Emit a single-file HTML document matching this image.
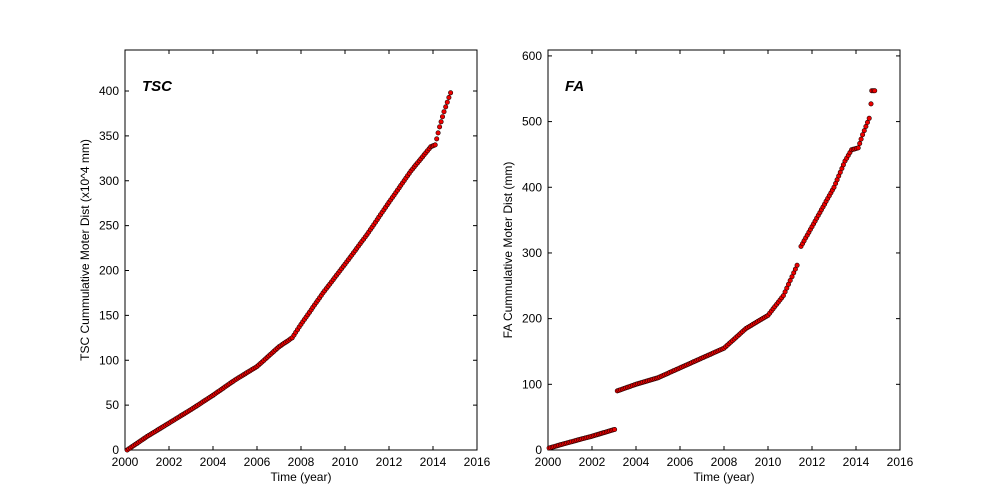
<!DOCTYPE html><html><head><style>body{margin:0;background:#fff}svg{display:block;font-family:"Liberation Sans",sans-serif}</style></head><body>
<svg id="s" width="1000" height="500" xmlns="http://www.w3.org/2000/svg"></svg>
<script>
const s=document.getElementById('s');let h='';
function plot(x0,ymax,yt,yl,title,pts,gaps){
 const X=v=>x0+(v-2000)*22,Y=v=>450-v*400/ymax;
 h+=`<rect x="${x0}" y="50" width="352" height="400" fill="#fff" stroke="#000" stroke-width="1"/>`;
 for(let yr=2000;yr<=2016;yr+=2){const x=X(yr);h+=`<line x1="${x}" y1="450" x2="${x}" y2="446" stroke="#000"/><line x1="${x}" y1="50" x2="${x}" y2="54" stroke="#000"/><text x="${x}" y="466" font-size="12" text-anchor="middle">${yr}</text>`;}
 for(const v of yt){const y=Y(v);h+=`<line x1="${x0}" y1="${y}" x2="${x0+4}" y2="${y}" stroke="#000"/><line x1="${x0+352}" y1="${y}" x2="${x0+348}" y2="${y}" stroke="#000"/><text x="${x0-6}" y="${y+4}" font-size="12" text-anchor="end">${v}</text>`;}
 h+=`<text x="${x0+176}" y="481" font-size="12" text-anchor="middle">Time (year)</text>`;
 h+=`<text transform="translate(${x0-36},250) rotate(-90)" font-size="12" text-anchor="middle">${yl}</text>`;
 h+=`<text x="${x0+17}" y="91" font-size="15" font-weight="bold" font-style="italic">${title}</text>`;
 for(let i=0;i<pts.length-1;i++){const [a,av]=pts[i],[b,bv]=pts[i+1];if(b===a)continue;if(gaps.includes(i))continue;
  const n=Math.max(1,Math.round((b-a)/0.075));for(let k=0;k<n;k++){const t=k/n;h+=`<circle cx="${X(a+(b-a)*t).toFixed(1)}" cy="${Y(av+(bv-av)*t).toFixed(1)}" r="2.2" fill="#e00" stroke="#200" stroke-width="0.6"/>`;}}
 const l=pts[pts.length-1];h+=`<circle cx="${X(l[0])}" cy="${Y(l[1])}" r="2.2" fill="#e00" stroke="#200" stroke-width="0.6"/>`;
}
plot(125,445.7,[0,50,100,150,200,250,300,350,400],'TSC Cummulative Moter Dist (x10^4 mm)','TSC',
[[2000.1,0],[2001,15],[2002,30],[2003,45],[2004,61],[2005,78],[2006,93],[2007,115],[2007.6,125],[2008,140],[2009,175],[2010,207],[2011,240],[2012,276],[2013,311],[2013.9,338],[2014.1,340],[2014.3,360],[2014.5,377],[2014.8,398]],[]);
plot(548,609,[0,100,200,300,400,500,600],'FA Cummulative Moter Dist (mm)','FA',
[[2000.05,3],[2001,12],[2002,21],[2003.1,32],[2003.15,90],[2004,100],[2005,110],[2006,125],[2007,140],[2008,155],[2009,185],[2010,205],[2010.7,235],[2011.4,287],[2011.5,310],[2012,340],[2012.5,370],[2013,400],[2013.5,440],[2013.8,457],[2014.1,460],[2014.3,480],[2014.6,505],[2014.68,527],[2014.72,547],[2014.85,547]],[3,13]);
s.innerHTML=h;
</script></body></html>
